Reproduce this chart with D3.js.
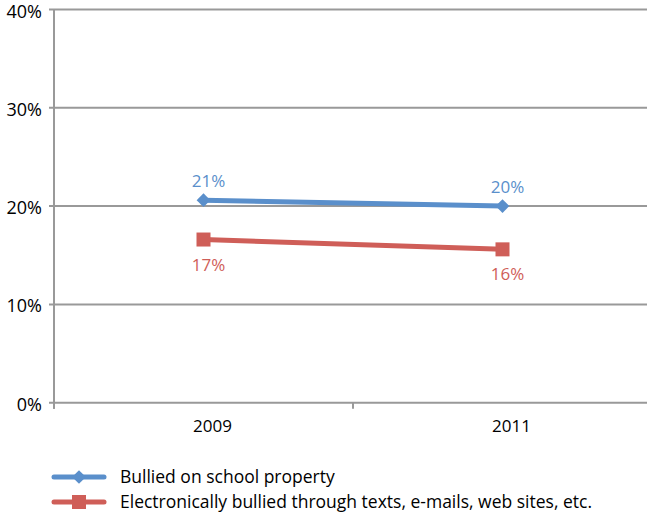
<!DOCTYPE html>
<html><head><meta charset="utf-8">
<script src="https://cdn.jsdelivr.net/npm/d3@7"></script>
<style>body{margin:0;background:#fff}svg{display:block}text{font-family:"Open Sans",sans-serif}</style>
</head><body><svg id="c" width="647" height="515"></svg>
<script>
const categories = ["2009", "2011"];
const seriesNames = ["Bullied on school property", "Electronically bullied through texts, e-mails, web sites, etc."];
const bulliedSchool = [0.206, 0.200];
const bulliedElectronic = [0.166, 0.156];
const schoolLabels = ["21%", "20%"];
const electronicLabels = ["17%", "16%"];
const yTicks = [0, 0.1, 0.2, 0.3, 0.4];

(function () {
const colors = ["#5A8FCB", "#CF5E58"];
const svg = d3.select("#c");
const pl = 54, pr = 652, pt = 9.5, pb = 402.7;
const x = d3.scaleBand().domain(categories).range([pl, pr]);
const y = d3.scaleLinear().domain([0, 0.4]).range([pb, pt]);
const grid = "#999999";

svg.append("g").selectAll("line").data(yTicks).join("line")
  .attr("x1", pl - 5).attr("x2", pr).attr("y1", d => y(d)).attr("y2", d => y(d))
  .attr("stroke", grid).attr("stroke-width", 2);
svg.append("line").attr("x1", pl).attr("x2", pl).attr("y1", pt).attr("y2", pb + 6)
  .attr("stroke", grid).attr("stroke-width", 2);
const xt = [pl, ...categories.slice(1).map(c => x(c)), pr];
svg.append("g").selectAll("line").data(xt).join("line")
  .attr("x1", d => d).attr("x2", d => d).attr("y1", pb).attr("y2", pb + 6)
  .attr("stroke", grid).attr("stroke-width", 2);

svg.append("g").selectAll("text").data(yTicks).join("text")
  .attr("x", 42).attr("y", d => y(d) + 8).attr("text-anchor", "end")
  .attr("font-size", 18).attr("fill", "#000").text(d => d3.format(".0%")(d));
svg.append("g").selectAll("text").data(categories).join("text")
  .attr("x", d => x(d) + x.bandwidth() / 2 + 9).attr("y", 432).attr("text-anchor", "middle")
  .attr("font-size", 17).attr("fill", "#000").text(d => d);

const cx = d => x(d) + x.bandwidth() / 2;
const line = d3.line().x(d => cx(d[0])).y(d => y(d[1]));
const s1 = categories.map((c, i) => [c, bulliedSchool[i]]);
const s2 = categories.map((c, i) => [c, bulliedElectronic[i]]);

svg.append("path").datum(s1).attr("d", line).attr("fill", "none").attr("stroke", colors[0]).attr("stroke-width", 5);
svg.append("path").datum(s2).attr("d", line).attr("fill", "none").attr("stroke", colors[1]).attr("stroke-width", 5);

const diamond = d3.symbol().type(d3.symbolDiamond2).size(120);
svg.append("g").selectAll("path").data(s1).join("path")
  .attr("transform", d => `translate(${cx(d[0])},${y(d[1])})`).attr("d", diamond).attr("fill", colors[0]);
svg.append("g").selectAll("rect").data(s2).join("rect")
  .attr("x", d => cx(d[0]) - 7).attr("y", d => y(d[1]) - 7).attr("width", 14).attr("height", 14).attr("fill", colors[1]);

svg.append("g").selectAll("text").data(s1).join("text")
  .attr("x", d => cx(d[0]) + 5).attr("y", d => y(d[1]) - 13).attr("text-anchor", "middle")
  .attr("font-size", 17).attr("fill", colors[0]).text((d, i) => schoolLabels[i]);
svg.append("g").selectAll("text").data(s2).join("text")
  .attr("x", d => cx(d[0]) + 5).attr("y", d => y(d[1]) + 31).attr("text-anchor", "middle")
  .attr("font-size", 17).attr("fill", colors[1]).text((d, i) => electronicLabels[i]);

const lg = svg.append("g");
seriesNames.forEach((n, i) => {
  const ly = 477 + i * 25;
  lg.append("line").attr("x1", 54).attr("x2", 104).attr("y1", ly).attr("y2", ly)
    .attr("stroke", colors[i]).attr("stroke-width", 5).attr("stroke-linecap", "round");
  if (i === 0) lg.append("path").attr("transform", `translate(79,${ly})`).attr("d", diamond).attr("fill", colors[0]);
  else lg.append("rect").attr("x", 72).attr("y", ly - 7).attr("width", 14).attr("height", 14).attr("fill", colors[1]);
  lg.append("text").attr("x", 120).attr("y", ly + 6).attr("font-size", 17.5).attr("fill", "#000").text(n);
});
})();
</script></body></html>
